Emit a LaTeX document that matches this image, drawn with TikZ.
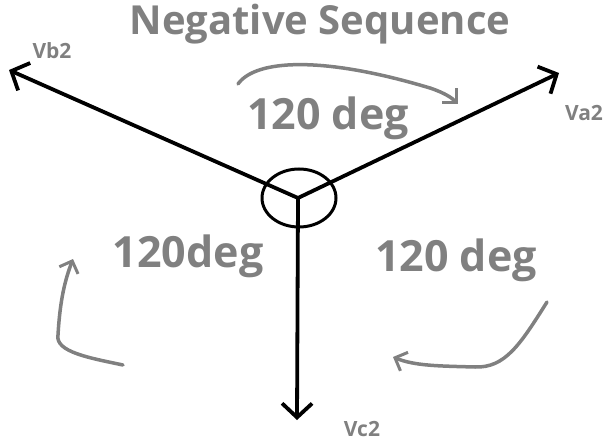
\documentclass[tikz,border=0pt]{standalone}
\usepackage{fontspec}
\setmainfont{Open Sans}
\usetikzlibrary{arrows.meta,shapes.geometric}
\definecolor{txtgray}{HTML}{808080}
\begin{document}
\begin{tikzpicture}[x=1pt,y=-1pt,
  phasor/.style={line width=3.8pt,-{Straight Barb[length=14pt,width=30pt,line width=3.8pt]}},
  rot/.style={line width=3.5pt,txtgray,line cap=round,-{Straight Barb[length=10pt,width=20pt,line width=3pt]}},
  big/.style={font=\bfseries\fontsize{43}{43}\selectfont,text=txtgray,inner sep=0pt},
  ttl/.style={font=\bfseries\fontsize{40}{40}\selectfont,text=txtgray,inner sep=0pt},
  lab/.style={font=\bfseries\fontsize{21}{21}\selectfont,text=txtgray,inner sep=0pt}]
\useasboundingbox (0,0) rectangle (607,441);
\coordinate (o) at (298,198);
\coordinate (b) at (9,70);
\coordinate (a) at (559,73);
\coordinate (c) at (297,420);
\draw[phasor] (o) -- (b);
\draw[phasor] (o) -- (a);
\draw[phasor] (o) -- (c);
\node[draw,line width=3pt,ellipse,minimum width=74pt,minimum height=58pt] (circ) at (299,198) {};
\node[ttl] (title) at (320,24) {Negative Sequence};
\node[big] (t1) at (328,118) {120 deg};
\node[big] (t2) at (188,256) {120deg};
\node[big] (t3) at (456,260) {120 deg};
\node[lab] (lb) at (52,51) {Vb2};
\node[lab] (la) at (584,113) {Va2};
\node[lab] (lc) at (362,429) {Vc2};
\coordinate (s1) at (238,84);
\coordinate (e1) at (458,104);
\draw[rot] (s1) .. controls (255,60) and (320,55) .. (430,88) .. controls (445,93) and (452,98) .. (e1);
\coordinate (s2) at (123,365);
\coordinate (e2) at (73,259);
\draw[rot] (s2) .. controls (90,358) and (55,352) .. (58,335) .. controls (60,300) and (65,280) .. (e2);
\coordinate (s3) at (547,302);
\coordinate (e3) at (393,357);
\draw[rot] (s3) .. controls (520,345) and (505,368) .. (475,367) .. controls (440,366) and (415,366) .. (e3);
\end{tikzpicture}
\end{document}
